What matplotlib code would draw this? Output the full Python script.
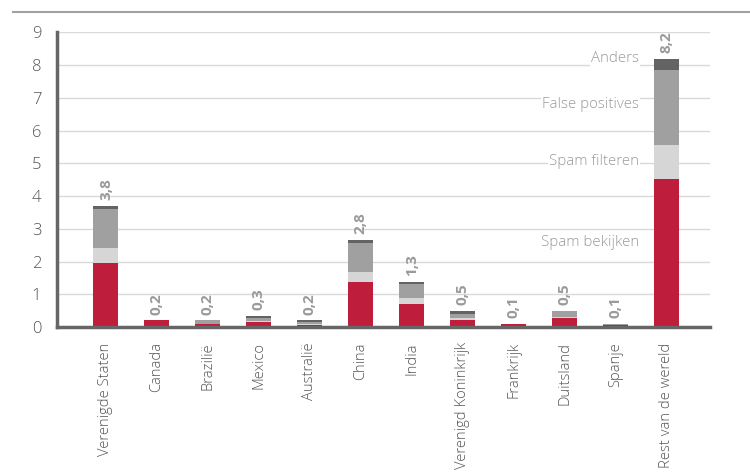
import matplotlib
matplotlib.use("Agg")
import matplotlib.pyplot as plt
import numpy as np

categories = ["Verenigde Staten", "Canada", "Brazilië", "Mexico", "Australië", "China",
              "India", "Verenigd Koninkrijk", "Frankrijk", "Duitsland", "Spanje",
              "Rest van de wereld"]
spam_bekijken = [1.95, 0.21, 0.09, 0.15, 0.07, 1.38, 0.70, 0.21, 0.09, 0.26, 0.07, 4.51]
spam_filteren = [0.45, 0.00, 0.00, 0.02, 0.03, 0.31, 0.19, 0.07, 0.00, 0.05, 0.00, 1.05]
false_positives = [1.20, 0.00, 0.12, 0.09, 0.05, 0.89, 0.41, 0.12, 0.00, 0.18, 0.03, 2.30]
anders = [0.10, 0.00, 0.00, 0.08, 0.06, 0.09, 0.08, 0.09, 0.00, 0.00, 0.00, 0.33]
totals = ["3,8", "0,2", "0,2", "0,3", "0,2", "2,8", "1,3", "0,5", "0,1", "0,5", "0,1", "8,2"]
series_names = ["Spam bekijken", "Spam filteren", "False positives", "Anders"]
series_label_y = [2.58, 5.06, 6.78, 8.2]
yticks = list(range(0, 10))

colors = ["#be1e3c", "#d6d6d6", "#a0a0a0", "#636363"]
FONT = ["Open Sans", "DejaVu Sans"]
plt.rcParams['font.family'] = FONT

fig = plt.figure(figsize=(7.5, 4.74), dpi=100)
ax = fig.add_axes([56.5/750, 1-327/474, (710-56.5)/750, (327-32.3)/474])

x = np.arange(len(categories))
bottom = np.zeros(len(categories))
for vals, c in zip([spam_bekijken, spam_filteren, false_positives, anders], colors):
    vals = np.array(vals)
    ax.bar(x, vals, width=0.49, bottom=bottom, color=c, zorder=3, linewidth=0)
    bottom += vals

for xi, top, lab in zip(x, bottom, totals):
    ax.annotate(lab, (xi, top), xytext=(0, 4), textcoords="offset points",
                rotation=90, ha="center", va="bottom", color="#9a9a9a",
                fontsize=11, fontweight="bold")

for name, yy in zip(series_names, series_label_y):
    ax.text(10.46, yy, name, ha="right", va="center", color="#9a9a9a",
            fontsize=10.8, fontweight="light", zorder=4,
            bbox=dict(facecolor="white", edgecolor="none", pad=0.5))

ax.set_xlim(-0.97, 11.85)
ax.set_ylim(0, 9)
ax.set_yticks(yticks)
ax.set_yticklabels([str(t) for t in yticks], color="#555555", fontsize=12, fontweight="light")
ax.set_xticks(x)
ax.set_xticklabels(categories, rotation=90, color="#555555", fontsize=10.6, fontweight="light")
ax.tick_params(axis="both", length=0)
ax.tick_params(axis="x", pad=11)
ax.tick_params(axis="y", pad=11)
ax.grid(axis="y", color="#d9d9d9", linewidth=1, zorder=0)
for s in ["top", "right"]:
    ax.spines[s].set_visible(False)
for s in ["left", "bottom"]:
    ax.spines[s].set_color("#666666")
    ax.spines[s].set_linewidth(2.5)
    ax.spines[s].set_zorder(5)

fig.add_artist(plt.Line2D([13/750, 1.0], [1-12/474, 1-12/474], color="#a0a0a0", linewidth=1.5))

fig.savefig("out.png", dpi=100)
